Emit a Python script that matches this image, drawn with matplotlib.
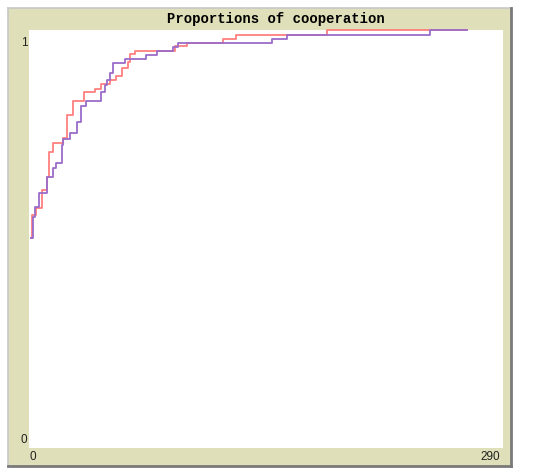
import matplotlib
matplotlib.use("Agg")
import matplotlib.pyplot as plt
from matplotlib.patches import Rectangle
from matplotlib.lines import Line2D

# Step breakpoints (tick, proportion)
red_x = [1, 2, 4.3, 7.8, 10.8, 12.4, 14.5, 20.6, 23.1, 27.1, 33.6, 40.4, 43.9,
         49.6, 53.2, 56.7, 60.6, 61.8, 64.9, 89.3, 96.7, 118.7, 126.6, 182.3, 268]
red_y = [0.502, 0.557, 0.574, 0.617, 0.649, 0.709, 0.729, 0.741, 0.797, 0.831,
         0.852, 0.859, 0.871, 0.880, 0.890, 0.908, 0.924, 0.942, 0.950, 0.962,
         0.969, 0.979, 0.988, 1.0, 1.0]
purple_x = [1, 2.3, 3.7, 6.3, 10.8, 14.9, 16.5, 20.0, 21.0, 25.1, 29.2, 31.6,
            34.7, 43.9, 46.5, 47.5, 49.6, 51.6, 58.7, 71.6, 78.1, 88.1, 91.2,
            148.7, 157.8, 245.3, 268]
purple_y = [0.502, 0.553, 0.577, 0.609, 0.649, 0.669, 0.681, 0.725, 0.739,
            0.753, 0.781, 0.817, 0.830, 0.852, 0.868, 0.880, 0.896, 0.920,
            0.930, 0.940, 0.950, 0.959, 0.969, 0.979, 0.988, 1.0, 1.0]

title = "Proportions of cooperation"
x_min, x_max = 0, 290
y_min, y_max = 0, 1

W, H = 550, 475
fig = plt.figure(figsize=(W / 100, H / 100), dpi=100)
fig.patch.set_facecolor("white")

def fx(px):
    return px / W

def fy(py):
    return 1 - py / H

# beige panel
panel_l, panel_r, panel_t, panel_b = 8, 511, 8, 466
fig.add_artist(Rectangle((fx(panel_l), fy(panel_b)), fx(panel_r - panel_l),
                         (panel_b - panel_t) / H, transform=fig.transFigure,
                         facecolor="#DFDFB9", edgecolor="none", zorder=0))
# panel borders: light top/left, dark right/bottom
fig.add_artist(Line2D([fx(panel_l), fx(panel_r)], [fy(panel_t), fy(panel_t)],
                      transform=fig.transFigure, color="#C8C8C8", lw=1.2))
fig.add_artist(Line2D([fx(panel_l), fx(panel_l)], [fy(panel_t), fy(panel_b)],
                      transform=fig.transFigure, color="#C8C8C8", lw=1.2))
fig.add_artist(Line2D([fx(panel_r), fx(panel_r)], [fy(panel_t), fy(panel_b)],
                      transform=fig.transFigure, color="#7A7A7A", lw=2))
fig.add_artist(Line2D([fx(panel_l), fx(panel_r)], [fy(panel_b), fy(panel_b)],
                      transform=fig.transFigure, color="#7A7A7A", lw=2))

# plot area
al, ar, at, ab = 29, 503, 30, 448
ax = fig.add_axes([fx(al), fy(ab), (ar - al) / W, (ab - at) / H])
ax.set_facecolor("white")
for s in ax.spines.values():
    s.set_visible(False)
ax.set_xticks([])
ax.set_yticks([])
ax.set_xlim(x_min, x_max)
ax.set_ylim(y_min, y_max)

ax.plot(purple_x, purple_y, drawstyle="steps-post", color="#9B6CC9", lw=1.3,
        clip_on=False, zorder=3)
ax.plot(red_x, red_y, drawstyle="steps-post", color="#FF7F7F", lw=1.3,
        clip_on=False, zorder=2)

fig.text(fx(276), fy(19), title, ha="center", va="center",
         family="Liberation Mono", weight="bold", fontsize=10, color="black")

lab = dict(family="Liberation Sans", fontsize=8.5, color="#222222")
fig.text(fx(24), fy(43), str(y_max), ha="center", va="center", **lab)
fig.text(fx(24), fy(440), str(y_min), ha="center", va="center", **lab)
fig.text(fx(33), fy(457), str(x_min), ha="center", va="center", **lab)
fig.text(fx(500), fy(457), str(x_max), ha="right", va="center", **lab)

fig.savefig("out.png", dpi=100, facecolor="white")
